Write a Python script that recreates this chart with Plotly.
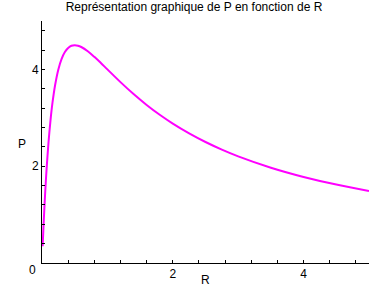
import plotly.graph_objects as go

R = [0.01, 0.02, 0.03, 0.05, 0.07, 0.1, 0.13, 0.16, 0.2, 0.25, 0.3, 0.35, 0.4, 0.45,
     0.5, 0.55, 0.6, 0.7, 0.8, 0.9, 1.0, 1.2, 1.4, 1.6, 1.8, 2.0, 2.25, 2.5, 2.75,
     3.0, 3.5, 4.0, 4.5, 5.0]
P = [0.346, 0.666, 0.961, 1.488, 1.939, 2.5, 2.948, 3.306, 3.673, 4.0, 4.219, 4.36,
     4.444, 4.488, 4.5, 4.49, 4.463, 4.375, 4.26, 4.133, 4.0, 3.737, 3.49, 3.265,
     3.062, 2.88, 2.678, 2.5, 2.343, 2.204, 1.969, 1.778, 1.62, 1.488]
x_ticks = [2, 4]
y_ticks = [2, 4]
title = "Représentation graphique de P en fonction de R"

FONT = "Liberation Sans, Arial, sans-serif"

fig = go.Figure(go.Scatter(x=R, y=P, mode="lines", line=dict(color="#FF00FF", width=2, shape="spline"),
                           hoverinfo="skip"))

axis_common = dict(showline=True, linecolor="black", linewidth=1, showgrid=False, zeroline=False,
                   automargin=False,
                   ticks="inside", ticklen=3, tickcolor="black", tickfont=dict(size=12, color="black", family=FONT),
                   minor=dict(ticks="inside", ticklen=3, dtick=0.4, tick0=0, tickcolor="black", showgrid=False))

fig.update_layout(
    width=388, height=288,
    margin=dict(l=42, r=19, t=21, b=25),
    paper_bgcolor="white", plot_bgcolor="white",
    showlegend=False,
    font=dict(family=FONT, size=12, color="black"),
    title=dict(text=title, x=0.5, xanchor="center", y=1 - 7 / 288, yanchor="middle",
               font=dict(size=12, family=FONT, color="black")),
    xaxis=dict(range=[0, 5], tickvals=x_ticks, ticktext=[str(v) for v in x_ticks], **axis_common),
    yaxis=dict(range=[0, 5], tickvals=y_ticks, ticktext=[str(v) for v in y_ticks], **axis_common),
    annotations=[
        dict(text="P", xref="paper", yref="paper", x=0, y=0.5, xshift=-20, yshift=-1.5,
             xanchor="center", yanchor="middle", showarrow=False, font=dict(size=12, family=FONT)),
        dict(text="R", xref="paper", yref="paper", x=0.5, y=0, yshift=-17,
             xanchor="center", yanchor="middle", showarrow=False, font=dict(size=12, family=FONT)),
        dict(text="0", xref="x", yref="y", x=0, y=0, xshift=-10, yshift=-7,
             xanchor="center", yanchor="middle", showarrow=False, font=dict(size=12, family=FONT)),
    ],
)

fig.write_html("out.html")
